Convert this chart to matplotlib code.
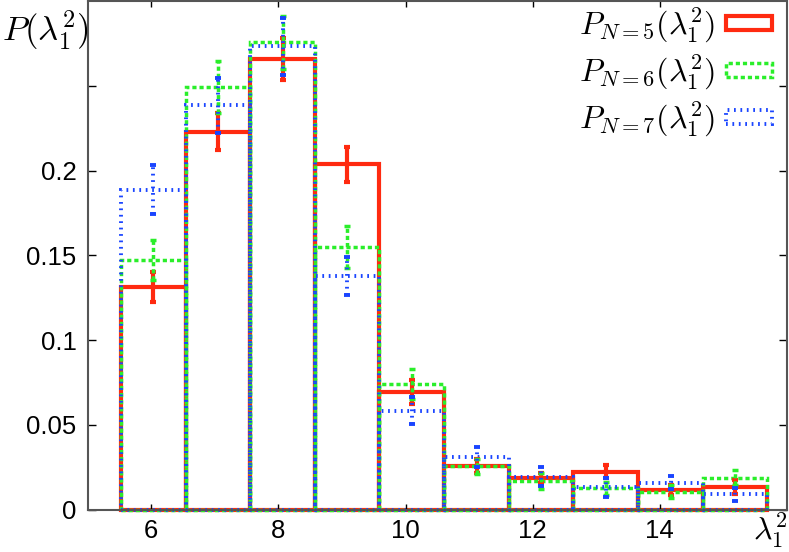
import matplotlib
matplotlib.use("Agg")
import matplotlib.pyplot as plt
import numpy as np

# histogram of lambda_1^2, three sizes N, boxes + error bars (gnuplot look)
edges = [5.52, 6.54, 7.56, 8.58, 9.59, 10.61, 11.63, 12.64, 13.66, 14.68, 15.69]

p5 = [0.1313, 0.2230, 0.2659, 0.2036, 0.0694, 0.0256, 0.0187, 0.0223, 0.0115, 0.0134]
e5 = [0.0087, 0.0110, 0.0123, 0.0103, 0.0070, 0.0040, 0.0030, 0.0040, 0.0030, 0.0040]
p6 = [0.1470, 0.2492, 0.2757, 0.1549, 0.0740, 0.0255, 0.0168, 0.0125, 0.0105, 0.0187]
e6 = [0.0118, 0.0153, 0.0157, 0.0122, 0.0087, 0.0043, 0.0050, 0.0040, 0.0039, 0.0045]
p7 = [0.1887, 0.2384, 0.2733, 0.1378, 0.0582, 0.0308, 0.0193, 0.0131, 0.0158, 0.0090]
e7 = [0.0143, 0.0161, 0.0168, 0.0114, 0.0079, 0.0059, 0.0055, 0.0055, 0.0040, 0.0037]

labels = [r"$P_{N=5}(\lambda_1^2)$", r"$P_{N=6}(\lambda_1^2)$", r"$P_{N=7}(\lambda_1^2)$"]
xticks = [6, 8, 10, 12, 14]
yticks = [0, 0.05, 0.1, 0.15, 0.2, 0.25]
yticklabels = ["0", "0.05", "0.1", "0.15", "0.2", ""]

plt.rcParams["mathtext.fontset"] = "cm"
plt.rcParams["font.family"] = ["Liberation Sans", "DejaVu Sans"]

edges = np.array(edges)
widths = np.diff(edges)
centers = edges[:-1] + widths / 2

fig = plt.figure(figsize=(7.89, 5.52), dpi=100)
ax = fig.add_axes([87.7 / 789, 42.5 / 552, (787 - 87.7) / 789, (551 - 42.5) / 552])

series = [
    (p5, e5, "#ff2a10", "-", 3.0),
    (p6, e6, "#2aee2a", (0, (1.2, 0.85)), 2.5),
    (p7, e7, "#1a45ff", (0, (0.45, 1.2)), 2.8),
]

for (vals, errs, col, ls, lw), lab in zip(series, labels):
    ax.bar(edges[:-1], vals, width=widths, align="edge", fill=False,
           edgecolor=col, linestyle=ls, linewidth=lw, label=lab, clip_on=False)
    eb = ax.errorbar(centers, vals, yerr=errs, fmt="none", ecolor=col,
                     elinewidth=lw, capsize=2.5, capthick=lw)
    for c in eb[2]:
        c.set_linestyle(ls)

ax.set_xlim(5, 16)
ax.set_ylim(0, 0.3)
ax.set_xticks(xticks)
ax.set_yticks(yticks)
ax.set_yticklabels(yticklabels)
ax.tick_params(axis="both", direction="in", top=True, right=True,
               labelsize=18.5, width=1, color="black")
ax.tick_params(axis="x", length=4, pad=7)
ax.tick_params(axis="y", length=6, pad=8)
for s in ax.spines.values():
    s.set_color("#555555")
    s.set_linewidth(1.5)

leg = ax.legend(loc="upper right", bbox_to_anchor=(0.987, 1.0), frameon=False,
                markerfirst=False, fontsize=23, handlelength=1.45,
                handleheight=0.3, handletextpad=0.35, labelspacing=0.25,
                borderpad=0.05, borderaxespad=0.12)

fig.text(2 / 789, 1 - 30 / 552, r"$P(\lambda_1^2)$", fontsize=25,
         ha="left", va="center")
fig.text(787 / 789, 2 / 552, r"$\lambda_1^2$", fontsize=23,
         ha="right", va="bottom")

fig.savefig("out.png", dpi=100)
